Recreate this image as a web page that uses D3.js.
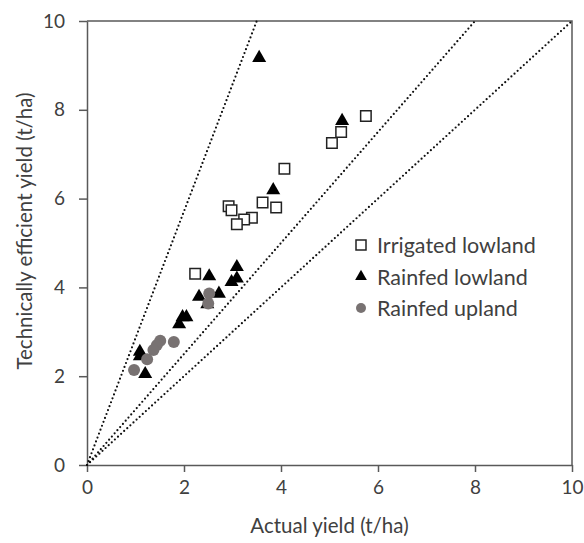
<!DOCTYPE html>
<html>
<head>
<meta charset="utf-8">
<script src="https://cdn.jsdelivr.net/npm/d3@7"></script>
<style>
	body { margin: 0; background: #fff; }
	text { font-family: Lato, "Open Sans", sans-serif; fill: #404040; }
	.axis path, .axis line { stroke: #595959; stroke-width: 1.5; }
	.axis text { font-size: 19px; fill: #404040; }
</style>
</head>
<body>
<div id="chart"></div>
<script>
// irrigated lowland
let irrigatedX	= [5.75, 5.24, 5.05, 4.07, 3.62, 3.90, 2.92, 2.98, 3.40, 3.24, 3.09, 2.23];
let irrigatedY	= [7.86, 7.50, 7.25, 6.67, 5.91, 5.80, 5.83, 5.74, 5.57, 5.53, 5.42, 4.31];

// rainfed lowland
let lowlandX	= [3.55, 5.26, 3.84, 2.52, 3.09, 3.09, 2.98, 2.72, 2.31, 2.48, 2.05, 1.97, 1.90, 1.09, 1.09, 1.20];
let lowlandY	= [9.17, 7.75, 6.19, 4.25, 4.46, 4.20, 4.12, 3.86, 3.79, 3.62, 3.33, 3.33, 3.17, 2.55, 2.45, 2.05];

// rainfed upland
let uplandX		= [2.52, 2.50, 1.79, 1.51, 1.44, 1.37, 1.24, 0.97];
let uplandY		= [3.86, 3.64, 2.77, 2.80, 2.70, 2.59, 2.38, 2.14];

// reference lines: end x at the top of the frame (y = 10)
let refLineEnds	= [3.5, 8, 10];

let seriesNames	= ["Irrigated lowland", "Rainfed lowland", "Rainfed upland"];
let xTicks		= [0, 2, 4, 6, 8, 10];
let yTicks		= [0, 2, 4, 6, 8, 10];

let canvasWidth		= 584;
let canvasHeight	= 543;
let margin			= { top: 21, right: 12, bottom: 78, left: 87 };
let width			= canvasWidth - margin.left - margin.right;
let height			= canvasHeight - margin.top - margin.bottom;

let x = d3.scaleLinear().domain([0, 10]).range([0, width]);
let y = d3.scaleLinear().domain([0, 10]).range([height, 0]);

let svg = d3.select("#chart").append("svg")
	.attr("width", canvasWidth)
	.attr("height", canvasHeight)
	.append("g")
		.attr("transform", "translate(" + margin.left + "," + margin.top + ")");

// frame (top and right)
svg.append("path")
	.attr("d", "M0,0H" + width + "V" + height)
	.attr("fill", "none")
	.attr("stroke", "#595959")
	.attr("stroke-width", 1.5);

svg.append("g")
	.attr("class", "axis")
	.attr("transform", "translate(0," + height + ")")
	.call(d3.axisBottom(x).tickValues(xTicks).tickSize(7).tickSizeOuter(0).tickPadding(9));

svg.append("g")
	.attr("class", "axis")
	.call(d3.axisLeft(y).tickValues(yTicks).tickSize(8).tickSizeOuter(0).tickPadding(14));

// dotted lines through the origin
svg.append("g")
	.selectAll("line")
	.data(refLineEnds)
	.enter().append("line")
		.attr("x1", x(0))
		.attr("y1", y(0))
		.attr("x2", (o) => x(o))
		.attr("y2", y(10))
		.attr("stroke", "#111")
		.attr("stroke-width", 2.2)
		.attr("stroke-linecap", "round")
		.attr("stroke-dasharray", "0,4.2");

let squareSym	= d3.symbol().type(d3.symbolSquare).size(110);
let triSym		= d3.symbol().type(d3.symbolTriangle).size(85);

svg.append("g")
	.selectAll("path")
	.data(d3.range(irrigatedX.length))
	.enter().append("path")
		.attr("d", squareSym)
		.attr("transform", (i) => "translate(" + x(irrigatedX[i]) + "," + y(irrigatedY[i]) + ")")
		.attr("fill", "#fff")
		.attr("stroke", "#222")
		.attr("stroke-width", 1.5);

svg.append("g")
	.selectAll("path")
	.data(d3.range(lowlandX.length))
	.enter().append("path")
		.attr("d", triSym)
		.attr("transform", (i) => "translate(" + x(lowlandX[i]) + "," + y(lowlandY[i]) + ")")
		.attr("fill", "#000");

svg.append("g")
	.selectAll("circle")
	.data(d3.range(uplandX.length))
	.enter().append("circle")
		.attr("cx", (i) => x(uplandX[i]))
		.attr("cy", (i) => y(uplandY[i]))
		.attr("r", 6)
		.attr("fill", "#787272");

// legend
let legend = svg.append("g")
	.attr("transform", "translate(" + (361 - margin.left) + "," + (245 - margin.top) + ")");

let legendRow = legend.selectAll("g")
	.data(seriesNames)
	.enter().append("g")
		.attr("transform", (o, i) => "translate(0," + (i * 31.5) + ")");

legendRow.each(function(o, i) {
	let g = d3.select(this);
	if (i === 0) {
		g.append("rect").attr("x", -5).attr("y", -5).attr("width", 10).attr("height", 10)
			.attr("fill", "#fff").attr("stroke", "#222").attr("stroke-width", 1.5);
	} else if (i === 1) {
		g.append("path").attr("d", d3.symbol().type(d3.symbolTriangle).size(60)).attr("fill", "#000");
	} else {
		g.append("circle").attr("r", 5).attr("fill", "#787272");
	}
});

legendRow.append("text")
	.attr("x", 16)
	.attr("y", 8)
	.style("font-size", "21.5px")
	.text((o) => o);

// axis titles
svg.append("text")
	.attr("x", width / 2)
	.attr("y", height + 68)
	.attr("text-anchor", "middle")
	.style("font-size", "20.5px")
	.text("Actual yield (t/ha)");

svg.append("text")
	.attr("transform", "translate(" + (-55) + "," + (210) + ") rotate(-90)")
	.attr("text-anchor", "middle")
	.style("font-size", "20.5px")
	.text("Technically efficient yield (t/ha)");
</script>
</body>
</html>
